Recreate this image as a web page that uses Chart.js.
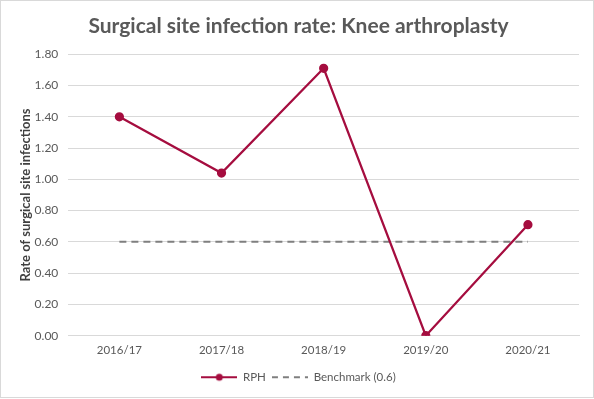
<!DOCTYPE html>
<html>
<head>
<meta charset="utf-8">
<script src="https://cdn.jsdelivr.net/npm/chart.js@4/dist/chart.umd.min.js"></script>
<style>
  html, body { margin: 0; padding: 0; background: #fff; }
  #wrap { position: relative; width: 592px; height: 396px; border: 1px solid #d9d9d9; }
</style>
</head>
<body>
<div id="wrap"><canvas id="chart"></canvas></div>
<script>
const years = ['2016/17', '2017/18', '2018/19', '2019/20', '2020/21'];
const rph_values = [1.40, 1.04, 1.71, 0.00, 0.71];
const benchmark_values = [0.6, 0.6, 0.6, 0.6, 0.6];
const y_ticks = { min: 0, max: 1.8, step: 0.2 };

const RED = '#A50D3F';
const GREY = '#7f7f7f';

// little pictures for the legend
const legend_icon = (kind) => {
	const c = document.createElement('canvas');
	c.width = 36; c.height = 10;
	const ctx = c.getContext('2d');
	ctx.lineWidth = 2;
	if (kind === 'line') {
		ctx.strokeStyle = RED;
		ctx.beginPath(); ctx.moveTo(0, 5); ctx.lineTo(36, 5); ctx.stroke();
		ctx.fillStyle = RED;
		ctx.beginPath(); ctx.arc(18, 5, 3.5, 0, Math.PI * 2); ctx.fill();
	} else {
		ctx.strokeStyle = GREY;
		ctx.setLineDash([6, 5]);
		ctx.beginPath(); ctx.moveTo(0, 5); ctx.lineTo(36, 5); ctx.stroke();
	}
	return c;
}

Chart.defaults.font.family = 'Lato, "Open Sans", sans-serif';
Chart.defaults.color = '#595959';

new Chart(document.getElementById('chart'), {
	type: 'line',
	data: {
		labels: years,
		datasets: [
			{
				label: 'RPH',
				data: rph_values,
				borderColor: RED,
				backgroundColor: RED,
				borderWidth: 2.25,
				pointRadius: 3.5,
				pointHoverRadius: 3.5,
				tension: 0,
			},
			{
				label: 'Benchmark (0.6)',
				data: benchmark_values,
				borderColor: GREY,
				backgroundColor: GREY,
				borderWidth: 2,
				borderDash: [7, 5],
				pointRadius: 0,
			}
		]
	},
	options: {
		responsive: true,
		maintainAspectRatio: false,
		animation: false,
		layout: { padding: { left: 17, right: 14, top: 6, bottom: 4 } },
		plugins: {
			title: {
				display: true,
				text: 'Surgical site infection rate: Knee arthroplasty',
				color: '#595959',
				font: { size: 21, weight: 'bold' },
				padding: { top: 7, bottom: 15 }
			},
			legend: {
				position: 'bottom',
				labels: {
					usePointStyle: true,
					pointStyleWidth: 36,
					boxHeight: 10,
					color: '#595959',
					font: { size: 11.5 },
					padding: 6,
					generateLabels: (chart) => chart.data.datasets.map((ds, i) => ({
						text: ds.label,
						pointStyle: legend_icon(i === 0 ? 'line' : 'dash'),
						fontColor: '#595959',
						strokeStyle: 'transparent',
						fillStyle: 'transparent',
						lineWidth: 0,
						datasetIndex: i,
						hidden: false
					}))
				}
			},
			tooltip: { enabled: false }
		},
		scales: {
			x: {
				offset: true,
				grid: { display: false, drawTicks: false },
				border: { color: '#d9d9d9' },
				ticks: { color: '#595959', font: { size: 11.5 }, padding: 8 }
			},
			y: {
				min: y_ticks.min,
				max: y_ticks.max,
				grid: { color: '#d9d9d9', drawTicks: false },
				border: { display: false },
				ticks: {
					stepSize: y_ticks.step,
					color: '#595959',
					font: { size: 12 },
					padding: 10,
					callback: (v) => v.toFixed(2)
				},
				title: {
					display: true,
					text: 'Rate of surgical site infections',
					color: '#404040',
					font: { size: 13, weight: 'bold' },
					padding: { top: 0, bottom: -9 }
				}
			}
		}
	}
});
</script>
</body>
</html>
